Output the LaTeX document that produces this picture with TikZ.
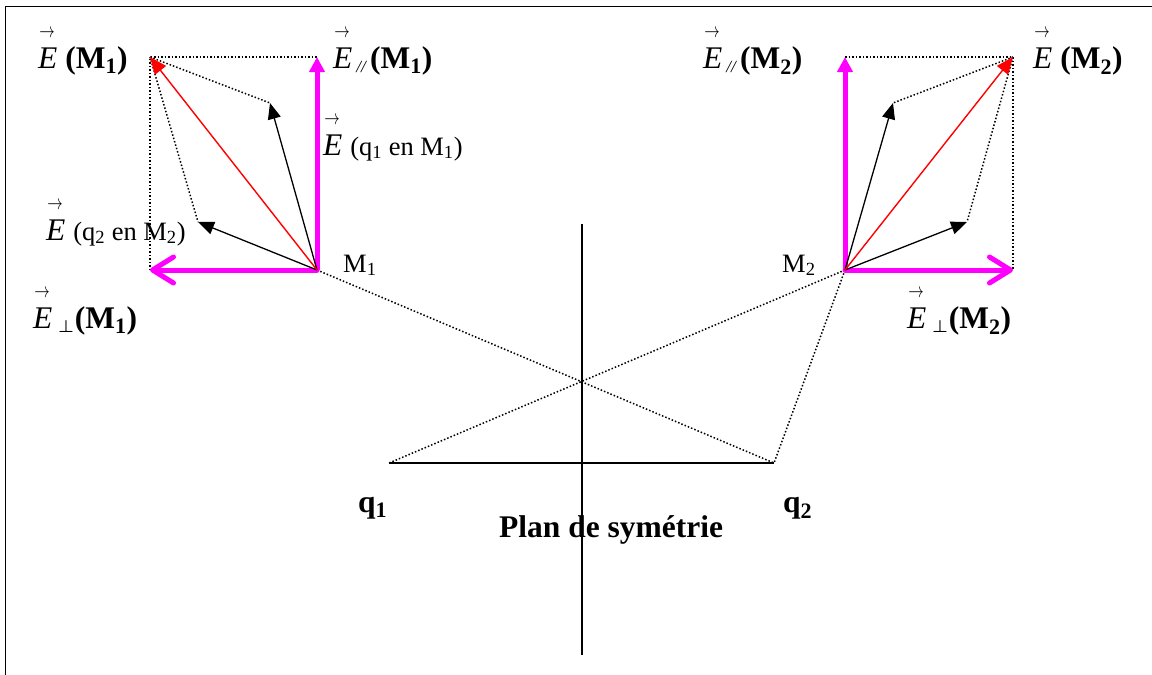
\documentclass[tikz,border=0pt]{standalone}
\usepackage{fontspec}
\usepackage{graphicx}
\setmainfont{Liberation Serif}
\usetikzlibrary{arrows.meta}
\newcommand\vE{\rlap{\raisebox{0.98em}{\hspace{0.04em}\scalebox{0.62}[0.85]{$\rightarrow$}}}\textit{E}}
\newcommand\smallfnt{\fontsize{26.5}{30}\selectfont}
\newcommand\parsub{\hspace{4pt}\raisebox{-4pt}{\fontsize{17}{17}\selectfont\textit{//}}\hspace{3pt}}
\newcommand\perpsub{\hspace{6pt}\raisebox{-4pt}{\fontsize{18}{18}\selectfont$\boldsymbol{\perp}$}\hspace{1pt}}
\usepackage{amsmath}
\begin{document}
\begin{tikzpicture}[x=1pt,y=-1pt,
  biglab/.style={font=\fontsize{31.5}{36}\selectfont, inner sep=0pt, anchor=base west},
  smalllab/.style={font=\smallfnt, inner sep=0pt, anchor=base west},
  dotline/.style={line width=1.5pt, dash pattern=on 1.5pt off 2pt},
  pinkpar/.style={line width=5pt, draw={rgb,255:red,255;green,0;blue,255}, -{Triangle[length=15pt,width=15pt]}},
  pinkperp/.style={line width=5pt, draw={rgb,255:red,255;green,0;blue,255}, line cap=round, -{Straight Barb[length=21pt,width=26pt,round]}},
  blackarr/.style={line width=1.3pt, -{Triangle[length=16pt,width=13pt]}},
  redarr/.style={line width=1.4pt, draw=red, fill=red, -{Triangle[length=17pt,width=14pt]}},
  solidline/.style={line width=1.6pt}]
\useasboundingbox (0,0) rectangle (1152,675);
% frame
\draw[line width=1.8pt] (5.5,675) -- (5.5,6.5) -- (1152,6.5);
% points
\coordinate (M1) at (317,270);
\coordinate (EM1) at (150,57);
\coordinate (Epar1) at (317,57);
\coordinate (Eperp1) at (150,270);
\coordinate (Ea1) at (270,103);
\coordinate (Eb1) at (198,222);
\coordinate (M2) at (845,270);
\coordinate (EM2) at (1013,57);
\coordinate (Epar2) at (845,57);
\coordinate (Eperp2) at (1013,270);
\coordinate (Ea2) at (893,103);
\coordinate (Eb2) at (967,222);
\coordinate (q1) at (389,463);
\coordinate (q2) at (774,463);
\coordinate (axtop) at (582,224);
\coordinate (axbot) at (582,655);
% construction lines
\draw[dotline] (Eperp1) -- (EM1) -- (Epar1);
\draw[dotline] (EM1) -- (Ea1);
\draw[dotline] (EM1) -- (Eb1);
\draw[dotline] (Epar2) -- (EM2) -- (Eperp2);
\draw[dotline] (EM2) -- (Ea2);
\draw[dotline] (EM2) -- (Eb2);
\draw[dotline] (M1) -- (q2);
\draw[dotline] (M2) -- (q1);
\draw[dotline] (M2) -- (q2);
% axis and charges line
\draw[solidline] (axtop) -- (axbot);
\draw[solidline] (q1) -- (q2);
% vectors
\draw[pinkpar] (M1) -- (Epar1);
\draw[pinkperp] (M1) -- (Eperp1);
\draw[pinkpar] (M2) -- (Epar2);
\draw[pinkperp] (M2) -- (Eperp2);
\draw[blackarr] (M1) -- (Ea1);
\draw[blackarr] (M1) -- (Eb1);
\draw[blackarr] (M2) -- (Ea2);
\draw[blackarr] (M2) -- (Eb2);
\draw[redarr] (M1) -- (EM1);
\draw[redarr] (M2) -- (EM2);
% labels left
\node[biglab] (lEM1) at (38,68) {\vE\ \textbf{(M\textsubscript{1})}};
\node[biglab] (lEpar1) at (333,68) {\vE\parsub\textbf{(M\textsubscript{1})}};
\node[biglab] (lEq1) at (323,155) {\vE\ {\smallfnt(q\textsubscript{1} en M\textsubscript{1})}};
\node[biglab] (lEq2) at (46,240) {\vE\ {\smallfnt(q\textsubscript{2} en M\textsubscript{2})}};
\node[smalllab] (lM1) at (343,272) {M\textsubscript{1}};
\node[biglab] (lEperp1) at (33,328) {\vE\perpsub\textbf{(M\textsubscript{1})}};
% labels right
\node[biglab] (lEpar2) at (703,68) {\vE\parsub\textbf{(M\textsubscript{2})}};
\node[biglab] (lEM2) at (1033,68) {\vE\ \textbf{(M\textsubscript{2})}};
\node[smalllab] (lM2) at (782,272) {M\textsubscript{2}};
\node[biglab] (lEperp2) at (907,328) {\vE\perpsub\textbf{(M\textsubscript{2})}};
% bottom labels
\node[biglab] (lq1) at (358,512) {\textbf{q\textsubscript{1}}};
\node[biglab] (lq2) at (783,512) {\textbf{q\textsubscript{2}}};
\node[biglab] (lplan) at (499,537) {\textbf{Plan de symétrie}};
\end{tikzpicture}
\end{document}
